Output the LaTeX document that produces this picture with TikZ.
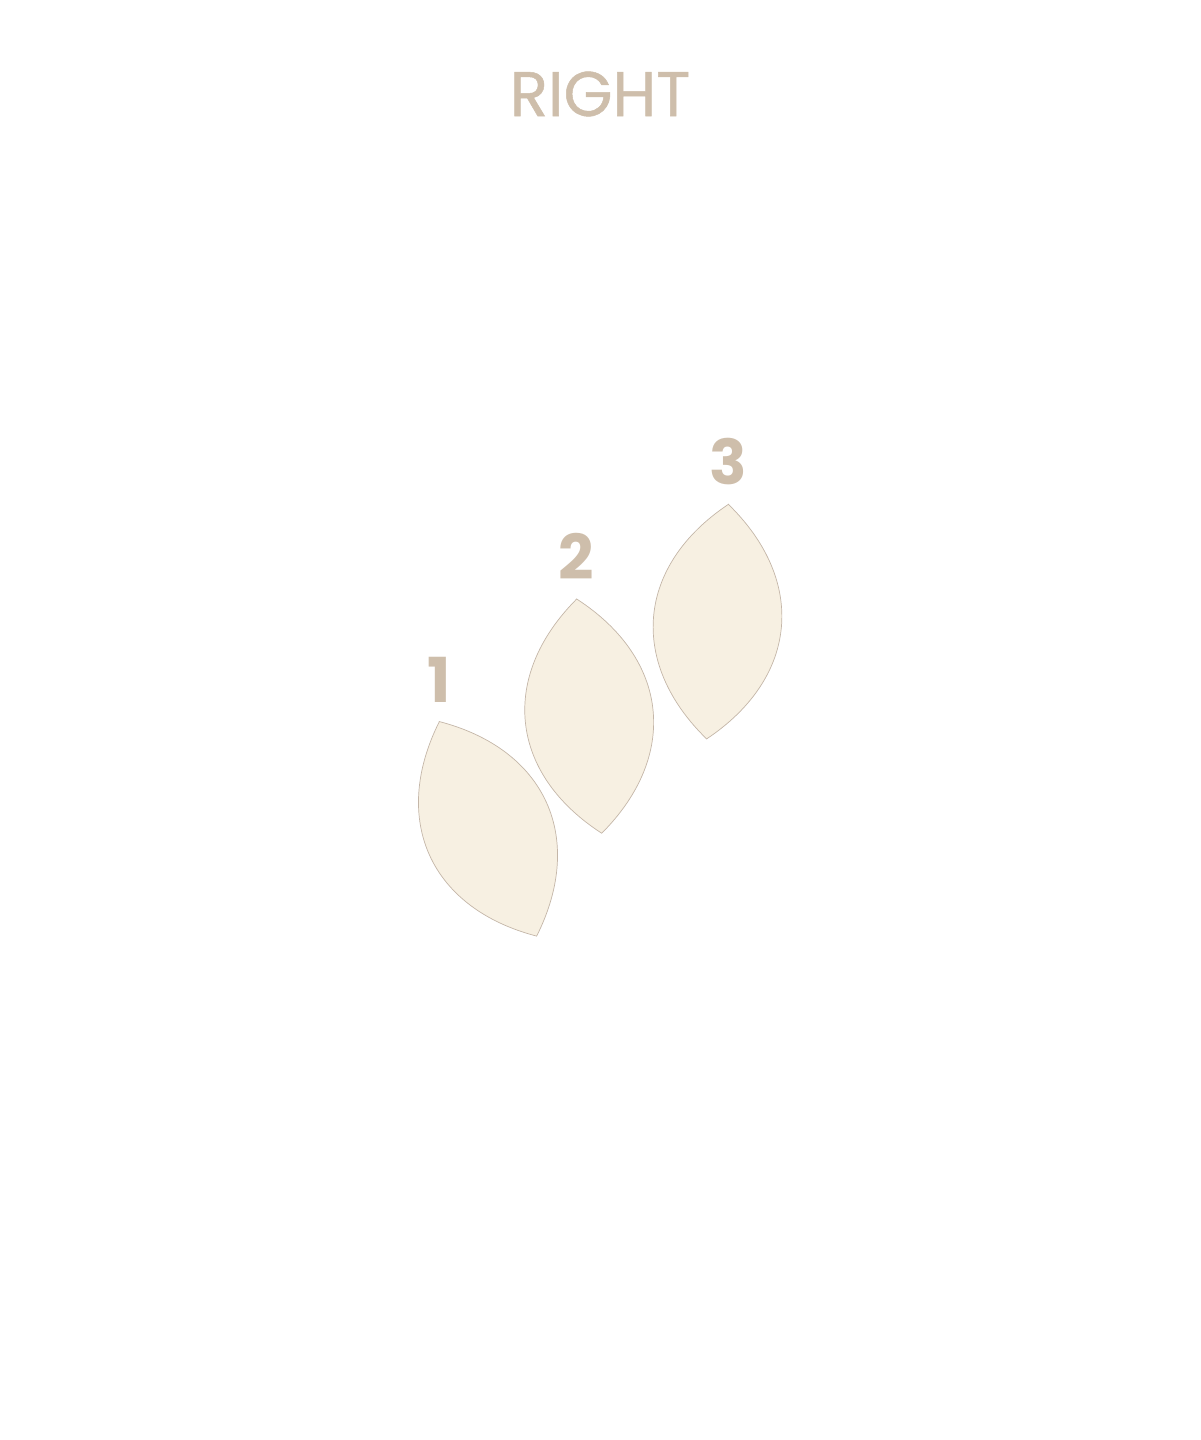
\documentclass[tikz,border=0pt]{standalone}
\usepackage{fontspec}
\setmainfont{Poppins}
\newfontfamily\headfont{Poppins}[FakeBold=0.8]
\usepackage{tikz}
\usepackage{xcolor}
\usetikzlibrary{
    calc,
    positioning
}
\definecolor{sand}{RGB}{206,190,171}
\definecolor{cream}{RGB}{247,240,226}
\definecolor{rim}{RGB}{196,182,168}
\tikzset{leafline/.style={draw=rim, fill=cream, line width=0.7pt}}
\tikzset{num/.style={inner sep=0pt, text=sand, font=\fontsize{62}{62}\selectfont\bfseries}}
\tikzset{ttl/.style={inner sep=0pt, text=sand, font=\headfont\fontsize{63}{63}\selectfont}}
\tikzset{leaf/.pic={
    \draw[leafline] (0, 117.8) .. controls (85.5, 48.6) and (85.5, -48.6) .. (0, -117.8)
    .. controls (-85.5, -48.6) and (-85.5, 48.6) .. cycle;
    \coordinate (-tip) at (0, 117.8);
}}

\begin{document}
\begin{tikzpicture}[x=1pt, y=1pt]
                    \useasboundingbox (0, 0) rectangle (1200, 1440);

                    \node[ttl] (title) at (600, 1346) {RIGHT};

                    \pic[rotate=24.4] (l1) at (488, 611.15) {leaf};
                    \pic[rotate=6.1] (l2) at (589.2, 723.85) {leaf};
                    \pic[rotate=-5.3] (l3) at (717.5, 818.35) {leaf};

                    \node[num, above=19pt of l1-tip] (one) {1};
                    \node[num, above=19pt of l2-tip] (two) {2};
                    \node[num, above=19pt of l3-tip] (three) {3};
                \end{tikzpicture}
\end{document}
